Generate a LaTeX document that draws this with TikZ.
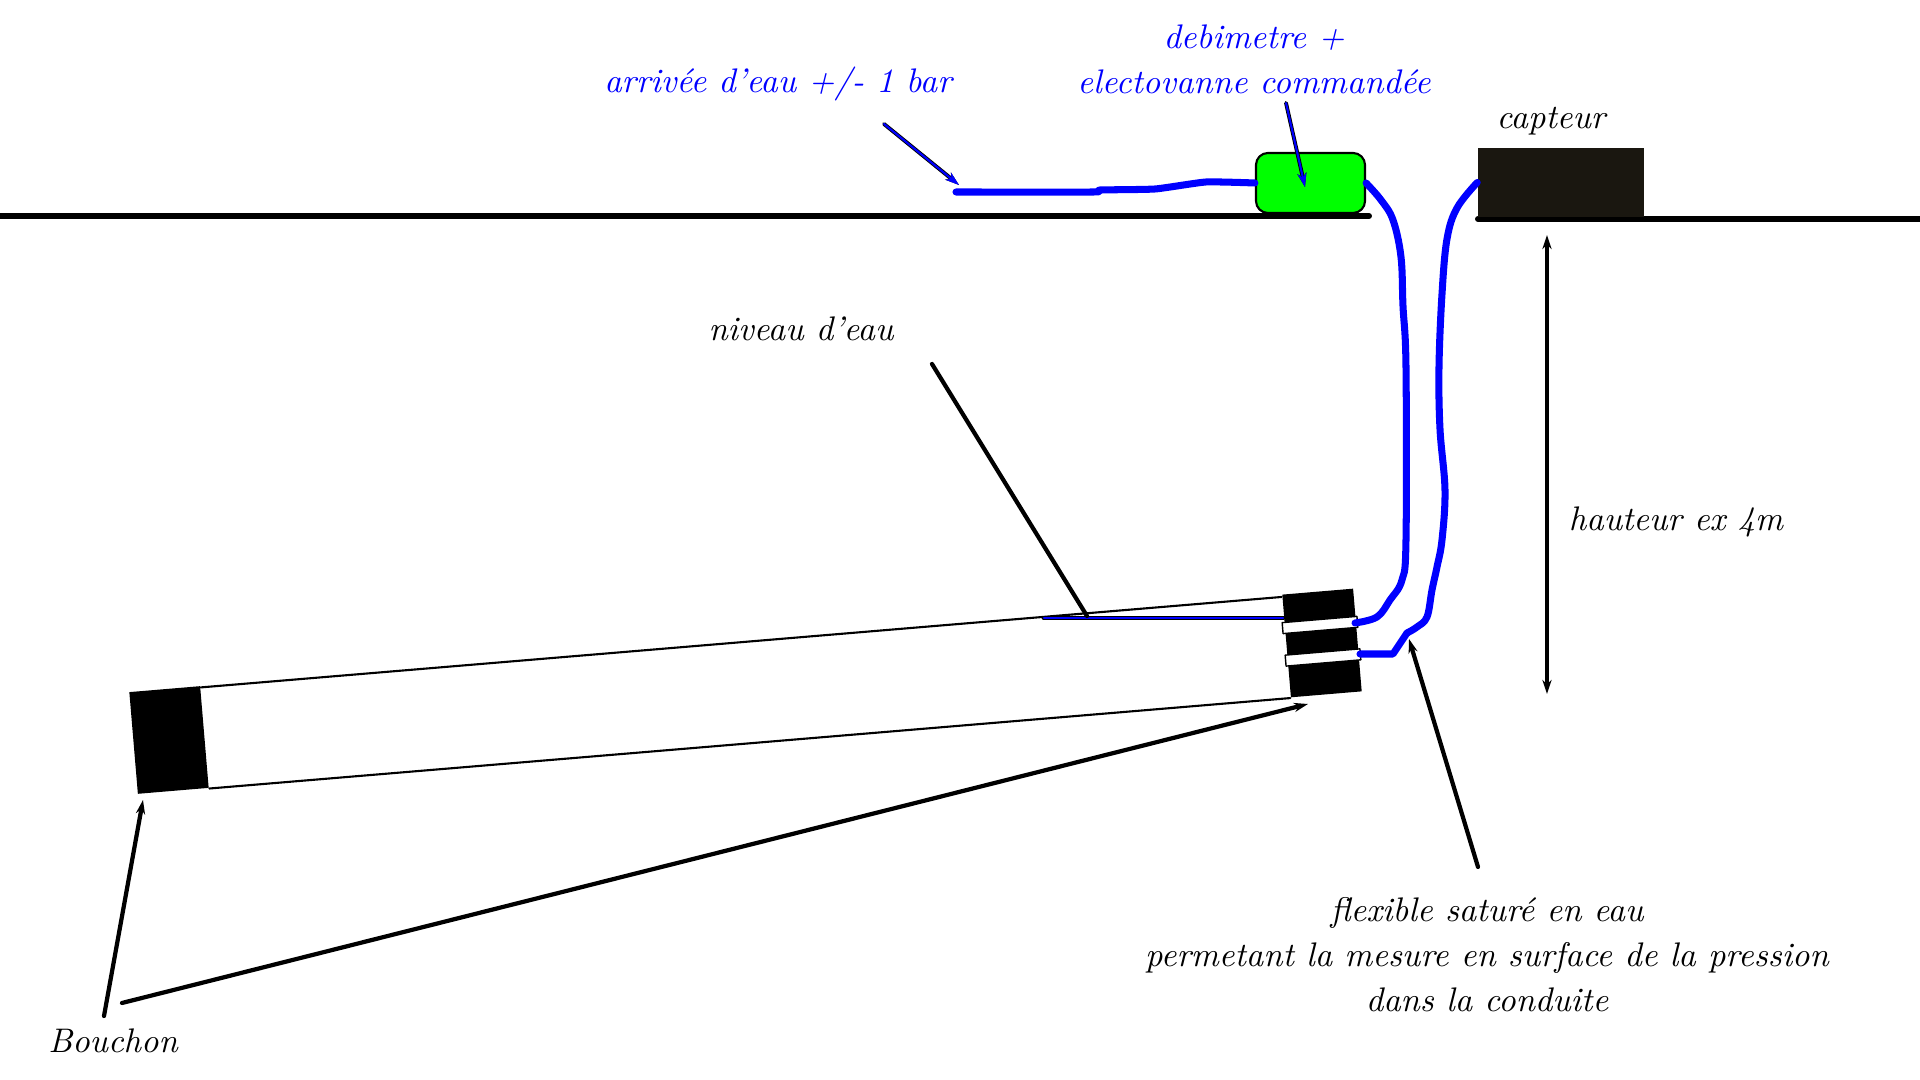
\documentclass[tikz,border=0pt]{standalone}
\usetikzlibrary{arrows.meta}
\definecolor{boitier}{RGB}{26,23,16}
\tikzset{
	label/.style={font=\itshape\fontsize{9.7}{12.8}\selectfont, inner sep=0pt, align=center},
	bluelabel/.style={label, text=blue},
	pipe/.style={blue, line width=2pt},
	ground/.style={line width=1.7pt},
	tube/.style={line width=0.6pt},
	pointer/.style={line width=1.2pt, ->},
	bluepointer/.style={blue, line width=0.6pt, ->},
	plugbox/.style={fill=black, inner sep=0pt, rotate=4.8},
	bandbox/.style={fill=white, draw=black, line width=0.4pt, inner sep=0pt, minimum width=0.75cm, minimum height=0.11cm, rotate=4.8}
}
\begin{document}
\begin{tikzpicture}[x=0.01cm, y=-0.01cm, line cap=round, line join=round, >={Stealth[length=4pt,width=2.6pt]}]
	\useasboundingbox (0,0) rectangle (1920,1080);
	% sol
	\coordinate (G1) at (0,216);
	\coordinate (G2) at (1369,216);
	\coordinate (G3) at (1478,219);
	\coordinate (G4) at (1920,219);
	\draw[ground] (G1) -- (G2);
	\draw[ground] (G3) -- (G4);
	% boitiers
	\node[fill=green, draw=black, line width=0.6pt, rounded corners=0.12cm, minimum width=1.09cm, minimum height=0.6cm, inner sep=0pt] (vanne) at (1310.5,183) {};
	\node[fill=boitier, minimum width=1.66cm, minimum height=0.69cm, inner sep=0pt] (capteur) at (1561,182.5) {};
	% conduite
	\node[plugbox, minimum width=0.71cm, minimum height=1.02cm] (bouchonG) at (169,740) {};
	\node[plugbox, minimum width=0.71cm, minimum height=1.03cm] (bouchonD) at (1322,643) {};
	\node[bandbox] (bandeH) at (1320,625) {};
	\node[bandbox] (bandeB) at (1323,657.5) {};
	\draw[tube] ([yshift=-0.02cm]bouchonG.north east) -- ([yshift=-0.03cm]bouchonD.north west);
	\draw[tube] (bouchonG.south east) -- (bouchonD.south west);
	% niveau
	\coordinate (N1) at (1044,618);
	\coordinate (N2) at (1283,618);
	\draw[line width=1.4pt] (N1) -- (N2);
	\draw[blue, line width=0.7pt] (N1) -- (N2);
	% flexibles
	\coordinate (F0) at (956,192);
	\coordinate (F1) at (1355,623);
	\coordinate (F2) at (1360,654);
	\draw[pipe] plot[smooth, tension=0.3] coordinates {(F0) (1094,192) (1100,190) (1155,189) (1206,182) (vanne.west)};
	\draw[pipe] plot[smooth, tension=0.6] coordinates {(vanne.east) (1381,200) (1393,220) (1401,257) (1403,306) (1406,367) (1406,540) (1402,580) (1390,600) (1377,617) (F1)};
	\draw[pipe] plot[smooth, tension=0.6] coordinates {(capteur.west) (1457,208) (1447,239) (1442,294) (1439,367) (1440,429) (1445,490) (1442,540) (1437,567) (1432,590) (1427,617) (1417,627) (1407,633)};
	\draw[pipe] (1407,633) -- (1393,654) -- (F2);
	% textes
	\node[bluelabel] (arrivee) at (778,84) {arrivée d'eau +/- 1 bar};
	\node[bluelabel] (debit) at (1254,59) {debimetre +\\electovanne commandée};
	\node[label] (capt) at (1551,121) {capteur};
	\node[label] (niveau) at (801,329) {niveau d'eau};
	\node[label] (hauteur) at (1676,522) {hauteur ex 4m};
	\node[label] (flexible) at (1487,955) {flexible saturé en eau\\permetant la mesure en surface de la pression\\dans la conduite};
	\node[label] (bouchon) at (113,1041) {Bouchon};
	% fleches
	\coordinate (A1) at (884,124);
	\coordinate (A2) at (959,185);
	\coordinate (B1) at (1286,103);
	\coordinate (B2) at (1305,187);
	\draw[pointer, line width=1.1pt] (A1) -- (A2);
	\draw[bluepointer] (A1) -- (A2);
	\draw[pointer, line width=1.1pt] (B1) -- (B2);
	\draw[bluepointer] (B1) -- (B2);
	\coordinate (C1) at (932,364);
	\coordinate (C2) at (1087,616);
	\draw[line width=1.2pt] (C1) -- (C2);
	\coordinate (D1) at (104,1016);
	\coordinate (D2) at (143,800);
	\coordinate (D3) at (122,1003);
	\coordinate (D4) at (1308,704);
	\draw[pointer] (D1) -- (D2);
	\draw[pointer] (D3) -- (D4);
	\coordinate (E1) at (1478,867);
	\coordinate (E2) at (1409,639);
	\draw[pointer] (E1) -- (E2);
	\coordinate (H1) at (1547,235);
	\coordinate (H2) at (1547,694);
	\draw[<->, line width=1.2pt] (H1) -- (H2);
\end{tikzpicture}
\end{document}
